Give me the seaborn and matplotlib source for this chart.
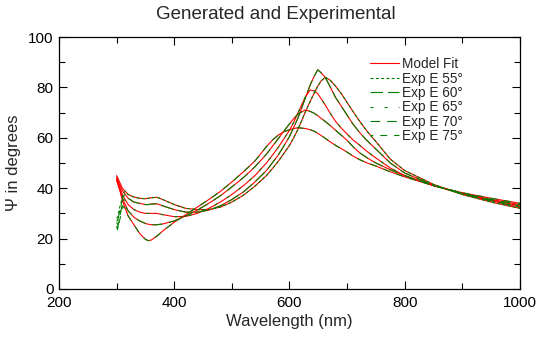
import matplotlib
matplotlib.use("Agg")
import matplotlib.pyplot as plt
from matplotlib.lines import Line2D
from matplotlib.ticker import MultipleLocator
import pandas as pd
import seaborn as sns

# Wavelength grid (nm) of the model-fit curves
wavelength = [300, 305, 310, 320, 330, 340, 350, 355, 360, 370,
              380, 400, 420, 440, 460, 480, 500, 520, 540, 560,
              570, 580, 590, 600, 608, 615, 627, 636, 643, 649,
              655, 662, 670, 680, 690, 700, 710, 722, 735, 750,
              775, 800, 850, 900, 950, 1000]

# Model-fit Psi (degrees) for each angle of incidence
psi_75 = [44.0, 40.0, 35.0, 29.0, 25.5, 22.0, 19.7, 19.2, 19.4, 21.0,
          23.0, 26.5, 29.5, 32.5, 35.5, 38.7, 42.5, 46.5, 50.8, 56.5,
          59.0, 61.0, 62.4, 63.2, 63.7, 64.0, 63.7, 63.2, 62.6, 61.8,
          60.9, 59.8, 58.5, 57.0, 55.7, 54.3, 52.8, 51.3, 50.0, 48.8,
          46.5, 44.5, 41.0, 38.2, 36.0, 34.0]
psi_70 = [43.0, 39.5, 36.0, 31.0, 28.5, 27.0, 26.0, 25.7, 25.5, 25.5,
          25.8, 27.0, 29.0, 31.3, 34.0, 37.0, 40.5, 44.2, 48.5, 53.5,
          56.5, 59.5, 62.6, 65.5, 67.8, 69.5, 71.0, 70.5, 69.7, 68.8,
          67.7, 66.5, 65.0, 63.0, 61.0, 59.0, 56.5, 54.0, 52.0, 50.0,
          47.3, 45.0, 41.0, 38.0, 35.5, 33.5]
psi_65 = [43.5, 40.5, 37.5, 33.5, 31.5, 30.5, 30.0, 30.0, 30.0, 30.0,
          29.5, 28.7, 28.8, 30.0, 32.0, 34.5, 37.5, 41.0, 45.0, 50.0,
          53.0, 56.0, 59.5, 63.0, 66.5, 70.0, 76.0, 79.0, 78.6, 77.5,
          75.5, 73.0, 70.0, 66.5, 63.8, 61.5, 59.2, 57.0, 54.5, 52.0,
          48.0, 45.0, 41.0, 37.8, 35.3, 33.0]
psi_60 = [44.5, 41.5, 39.0, 36.0, 34.5, 34.0, 33.5, 33.5, 33.7, 33.8,
          33.0, 31.5, 30.5, 30.5, 31.3, 33.0, 35.5, 38.5, 42.5, 47.0,
          50.0, 53.0, 56.7, 60.5, 64.5, 68.0, 75.5, 81.0, 84.5, 87.0,
          85.8, 84.0, 80.5, 76.0, 72.5, 69.0, 65.5, 62.0, 58.8, 55.5,
          50.0, 46.0, 41.2, 37.6, 35.0, 32.5]
psi_55 = [45.0, 42.5, 40.0, 37.5, 36.5, 36.0, 35.8, 36.0, 36.2, 36.4,
          35.5, 33.5, 32.0, 31.5, 31.5, 32.5, 34.5, 37.2, 40.8, 45.0,
          47.7, 50.5, 53.7, 57.0, 60.3, 63.5, 70.0, 74.5, 77.8, 80.5,
          82.6, 84.0, 83.0, 80.5, 77.5, 74.0, 70.5, 66.5, 62.5, 58.5,
          51.5, 47.0, 41.5, 37.5, 34.5, 32.0]

# Experimental data: noisy short-wavelength start, then it follows the model from 320 nm
exp_head_wl = [300, 302, 304, 306, 308, 310, 312, 315]
exp_head_75 = [24.5, 23.5, 26.0, 28.0, 30.0, 33.0, 32.5, 31.5]
exp_head_70 = [25.0, 24.0, 27.5, 29.0, 31.5, 33.5, 34.0, 33.0]
exp_head_65 = [26.5, 25.5, 28.5, 30.0, 32.5, 34.5, 35.5, 35.2]
exp_head_60 = [27.5, 27.0, 29.5, 31.5, 33.5, 35.5, 37.0, 37.5]
exp_head_55 = [28.0, 28.5, 31.0, 33.0, 34.5, 36.5, 38.0, 38.8]

angles = ["55", "60", "65", "70", "75"]
model = {"55": psi_55, "60": psi_60, "65": psi_65, "70": psi_70, "75": psi_75}
heads = {"55": exp_head_55, "60": exp_head_60, "65": exp_head_65,
         "70": exp_head_70, "75": exp_head_75}

dash_styles = {"55": (0, (2.2, 1.6)), "60": (0, (9, 3.5)), "65": (0, (2.2, 8)),
               "70": (0, (7, 5)), "75": (3, (5, 5))}

sns.set_style("ticks")
plt.rcParams["font.family"] = ["Liberation Sans", "DejaVu Sans"]
plt.rcParams["lines.scale_dashes"] = False

fig = plt.figure(figsize=(5.54, 3.38), dpi=100)
ax = fig.add_axes([0.1065, 0.145, 0.8321, 0.7455])

lw = 0.8
first_grid = 3  # model grid index where the experimental tail starts (320 nm)

# Model fits in red
for a in angles:
    df = pd.DataFrame({"wl": wavelength, "psi": model[a]})
    sns.lineplot(data=df, x="wl", y="psi", ax=ax, color="#ff0000", lw=lw,
                 sort=False, estimator=None, legend=False)

# Experimental curves in green
for a in angles:
    wl = exp_head_wl + wavelength[first_grid:]
    ps = heads[a] + model[a][first_grid:]
    df = pd.DataFrame({"wl": wl, "psi": ps})
    sns.lineplot(data=df, x="wl", y="psi", ax=ax, color="#008000", lw=lw,
                 linestyle=dash_styles[a], sort=False, estimator=None, legend=False)

ax.set_xlim(200, 1000)
ax.set_ylim(0, 100)
ax.xaxis.set_major_locator(MultipleLocator(200))
ax.xaxis.set_minor_locator(MultipleLocator(100))
ax.yaxis.set_major_locator(MultipleLocator(20))
ax.yaxis.set_minor_locator(MultipleLocator(10))
ax.tick_params(which="both", direction="in", top=True, right=True,
               labelsize=11, colors="black", width=0.8)
ax.tick_params(which="major", length=6)
ax.tick_params(which="minor", length=4)
ax.tick_params(axis="x", which="major", pad=5)
ax.tick_params(axis="y", which="major", pad=4)
for s in ax.spines.values():
    s.set_linewidth(0.9)
    s.set_color("black")

ax.set_xlabel("Wavelength (nm)", fontsize=12, labelpad=3)
ax.set_ylabel("Ψ in degrees", fontsize=12, labelpad=5)
fig.text(0.497, 0.957, "Generated and Experimental", ha="center", va="center",
         fontsize=13.5)

handles = [Line2D([], [], color="#ff0000", lw=lw)]
labels = ["Model Fit"]
for a in angles:
    handles.append(Line2D([], [], color="#008000", lw=lw, linestyle=dash_styles[a]))
    labels.append(f"Exp E {a}°")
leg = ax.legend(handles, labels, loc="upper left", bbox_to_anchor=(0.675, 0.92),
                frameon=False, fontsize=9.8, handlelength=2.1, handletextpad=0.25,
                labelspacing=0.03, borderpad=0, borderaxespad=0)

fig.savefig("out.png", dpi=100)
